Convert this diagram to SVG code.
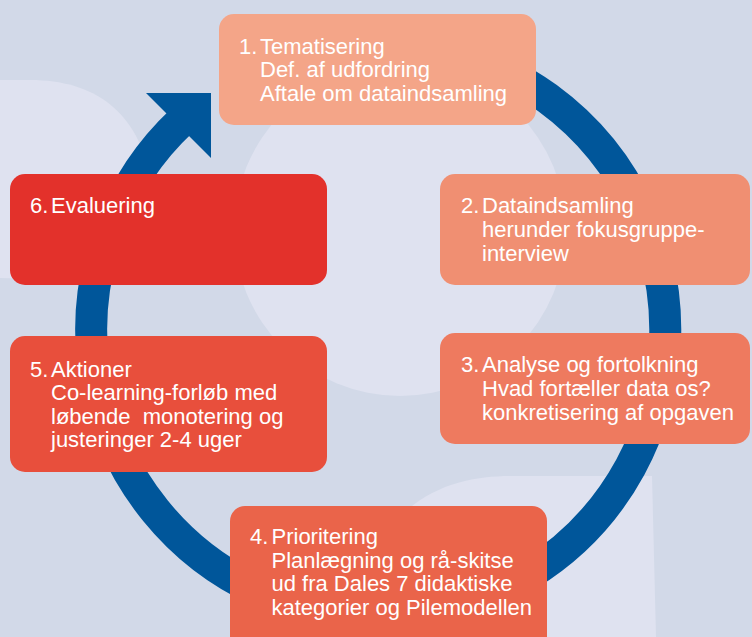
<svg xmlns="http://www.w3.org/2000/svg" width="752" height="637" viewBox="0 0 752 637">
<defs>
<style>
.bg{fill:#d2d9e8}
.light{fill:#dfe2f0}
.box{stroke:none}
.t{font-family:"Liberation Sans",Arial,sans-serif;font-size:22px;fill:#ffffff}
.ring{fill:none;stroke:#00569a;stroke-width:32}
.head{fill:#00569a}
</style>
</defs>
<rect class="bg" x="0" y="0" width="752" height="637"/>
<g id="background">
<path class="light" d="M0,80 H30 C95,80 138,112 150,178 L165,282 L0,278 Z"/>
<circle class="light" cx="400" cy="230" r="166"/>
<path class="light" d="M405,512 C438,482 478,476 512,476 H652 L656,637 H405 Z"/>
</g>
<g id="connectors">
<path class="ring" d="M279.8,60.3 A287,287 0 1 1 182.3,120.2"/>
<polygon class="head" points="146,93 211,93 211,158"/>
</g>
<g id="node1">
<rect class="box" x="219" y="14" width="317" height="111" rx="15" fill="#f4a588"/>
<text class="t"><tspan x="239" y="53.5">1.</tspan><tspan x="260" y="53.5">Tematisering</tspan><tspan x="260" y="77">Def. af udfordring</tspan><tspan x="260" y="100.5">Aftale om dataindsamling</tspan></text>
</g>
<g id="node2">
<rect class="box" x="440" y="174" width="310" height="111" rx="15" fill="#f08f72"/>
<text class="t"><tspan x="461" y="213.3">2.</tspan><tspan x="482" y="213.3">Dataindsamling</tspan><tspan x="482" y="237">herunder fokusgruppe-</tspan><tspan x="482" y="260.5">interview</tspan></text>
</g>
<g id="node3">
<rect class="box" x="440" y="333" width="310" height="111" rx="15" fill="#ee7a5f"/>
<text class="t"><tspan x="461" y="372">3.</tspan><tspan x="482" y="372">Analyse og fortolkning</tspan><tspan x="482" y="396">Hvad fortæller data os?</tspan><tspan x="482" y="419.7">konkretisering af opgaven</tspan></text>
</g>
<g id="node4">
<rect class="box" x="230" y="506" width="317" height="150" rx="15" fill="#ea644a"/>
<text class="t"><tspan x="250" y="544">4.</tspan><tspan x="271.5" y="544">Prioritering</tspan><tspan x="271.5" y="567.5">Planlægning og rå-skitse</tspan><tspan x="271.5" y="591">ud fra Dales 7 didaktiske</tspan><tspan x="271.5" y="614.5">kategorier og Pilemodellen</tspan></text>
</g>
<g id="node5">
<rect class="box" x="10" y="336" width="317" height="136" rx="15" fill="#e84f3c"/>
<text class="t" xml:space="preserve"><tspan x="30" y="377">5.</tspan><tspan x="51" y="377">Aktioner</tspan><tspan x="51" y="400">Co-learning-forløb med</tspan><tspan x="51" y="423.5">løbende  monotering og</tspan><tspan x="51" y="447">justeringer 2-4 uger</tspan></text>
</g>
<g id="node6">
<rect class="box" x="10" y="174" width="317" height="111" rx="15" fill="#e3312b"/>
<text class="t"><tspan x="30" y="213.3">6.</tspan><tspan x="51" y="213.3">Evaluering</tspan></text>
</g>
</svg>
